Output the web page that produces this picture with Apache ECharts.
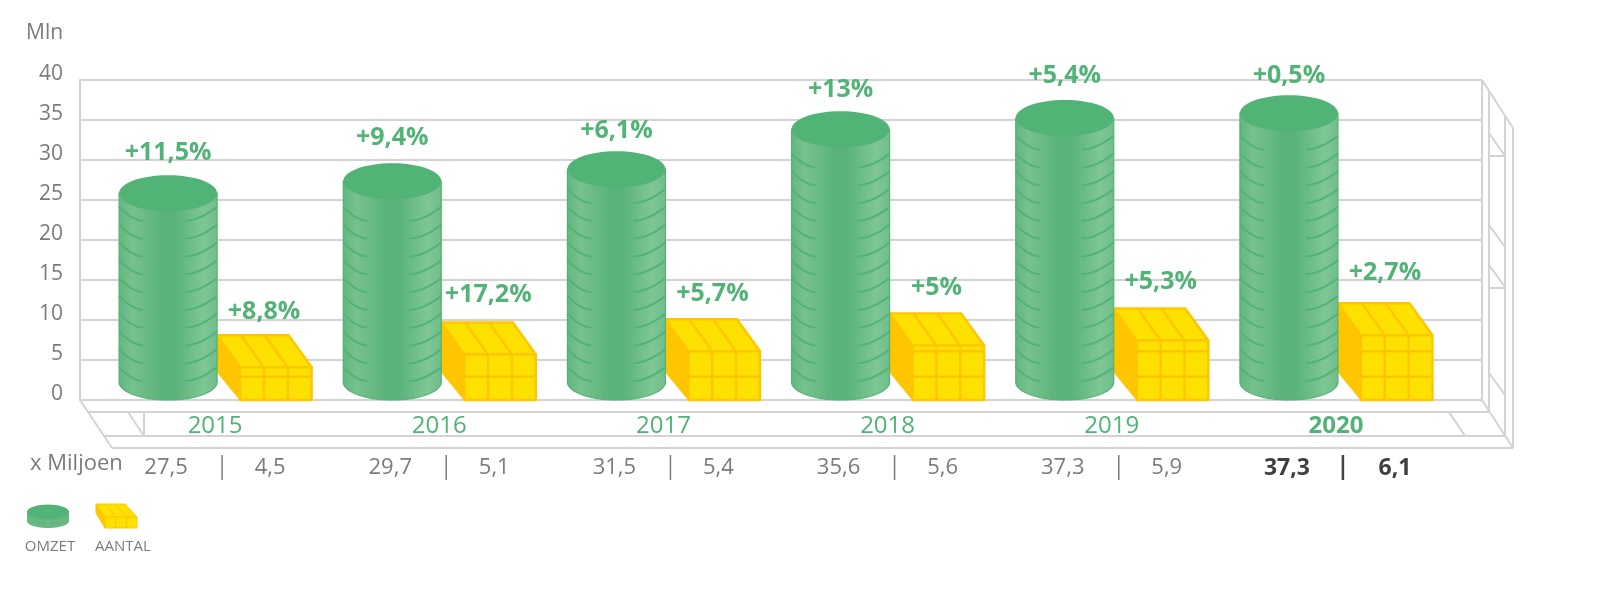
<!DOCTYPE html>
<html>
<head>
<meta charset="utf-8">
<style>html,body{margin:0;padding:0;background:#fff}#c{width:1600px;height:592px}</style>
<script src="https://cdn.jsdelivr.net/npm/echarts@6/dist/echarts.min.js"></script>
</head>
<body>
<div id="c"></div>
<script>
const categories = ['2015','2016','2017','2018','2019','2020'];
const yTicks = [0,5,10,15,20,25,30,35,40];
// heights
const omzetHeights = [28.1,29.6,31.1,36.1,37.5,38.1];
const aantalHeights = [8.1,9.7,10.1,10.8,11.45,12.1];
const omzetGrowth = ['+11,5%','+9,4%','+6,1%','+13%','+5,4%','+0,5%'];
const aantalGrowth = ['+8,8%','+17,2%','+5,7%','+5%','+5,3%','+2,7%'];
const omzetTable = ['27,5','29,7','31,5','35,6','37,3','37,3'];
const aantalTable = ['4,5','5,1','5,4','5,6','5,9','6,1'];

// layout only: label gap above each mark, in pixels
const omzetLabelGap = [22,25,20,21,24,19];
const aantalLabelGap = [23,28,25,26,27,30];

const FONT = '"Open Sans", sans-serif';
const GREEN = '#51b375', GREY = '#7b7b7b', FRAME = '#d3d3d3';
const YEL = '#ffe100', ORA = '#ffc600';
const chart = echarts.init(document.getElementById('c'), null, {renderer:'canvas'});
const grad = () => new echarts.graphic.LinearGradient(0,0,1,0,[
  {offset:0,color:'#62b680'},{offset:.14,color:'#78c18f'},{offset:.45,color:'#58b279'},
  {offset:.55,color:'#58b279'},{offset:.86,color:'#7fc697'},{offset:1,color:'#70bd89'}]);

function cylinder(params, api){
  const i = api.value(0), top = api.coord([i, api.value(1)]), floor = api.coord([i,0]);
  const cx = top[0]-47, rx = 49, ry = 18, cyTop = top[1]+ry, cyBot = floor[1]-18;
  const body = [[cx-rx,cyTop]];
  for(let a=0;a<=36;a++){const t=Math.PI*a/36; body.push([cx-rx*Math.cos(t),cyBot+ry*Math.sin(t)]);}
  body.push([cx+rx,cyTop]);
  const kids = [{type:'polygon',shape:{points:body},style:{fill:grad(),stroke:GREEN,lineWidth:1.2}}];
  // a ring seen from slightly above: it sinks from the edge towards the middle
  const arc = (cy,inner,edge)=>{const pts=[];for(let a=0;a<=12;a++){const t=a/12;
    pts.push([cx+inner+(edge-inner)*t,cy+17-14*Math.pow(t,1.8)]);}
    return {type:'polyline',shape:{points:pts},style:{fill:null,stroke:GREEN,lineWidth:2}};};
  for(let cy=floor[1]-36; cy>cyTop+7; cy-=17.8){kids.push(arc(cy,-25,-rx));kids.push(arc(cy,17,rx));}
  kids.push({type:'ellipse',shape:{cx:cx,cy:cyTop,rx:rx,ry:ry},style:{fill:GREEN}});
  kids.push({type:'text',style:{text:omzetGrowth[i],x:cx,y:top[1]-omzetLabelGap[i],align:'center',verticalAlign:'middle',
    fill:GREEN,font:'700 25px '+FONT}});
  return {type:'group',children:kids};
}
function box(params, api){
  const i = api.value(0), top = api.coord([i, api.value(1)]), floor = api.coord([i,0]);
  const x0 = top[0]+2, w = 71.5, dx = 23, dy = 32, yb = top[1], yf = yb+dy, y0 = floor[1];
  const s = {stroke:ORA,lineWidth:2.5,lineJoin:'round'};
  const kids = [
    {type:'polygon',shape:{points:[[x0,yb],[x0+dx,yf],[x0+dx,y0],[x0,y0-28]]},style:{fill:ORA,stroke:ORA,lineWidth:1}},
    {type:'polygon',shape:{points:[[x0,yb],[x0+w,yb],[x0+w+dx,yf],[x0+dx,yf]]},style:Object.assign({fill:YEL},s)},
    {type:'polygon',shape:{points:[[x0+dx,yf],[x0+dx+w,yf],[x0+dx+w,y0],[x0+dx,y0]]},style:Object.assign({fill:YEL},s)}
  ];
  const line=(a,b,c,d)=>({type:'line',shape:{x1:a,y1:b,x2:c,y2:d},style:s});
  [1/3,2/3].forEach(f=>{
    kids.push(line(x0+dx+w*f,yf,x0+dx+w*f,y0));
    kids.push(line(x0+w*f,yb,x0+dx+w*f,yf));
  });
  [2.9,6.1].forEach(v=>{const y=api.coord([i,v])[1]; if(y>yf+2) kids.push(line(x0+dx,y,x0+dx+w,y));});
  kids.push({type:'text',style:{text:aantalGrowth[i],x:top[0]+49,y:yb-aantalLabelGap[i],align:'center',verticalAlign:'middle',
    fill:GREEN,font:'700 25px '+FONT}});
  return {type:'group',children:kids};
}
function tableRow(params, api){
  const i = api.value(0), p = api.coord([i,0]), y = p[1]+68, last = i===categories.length-1;
  const font = (last?'700 23px ':'400 22px ')+FONT, fill = last?'#3f3f3f':GREY;
  const t=(text,x)=>({type:'text',style:{text,x,y,align:'center',verticalAlign:'middle',fill,font}});
  return {type:'group',children:[
    t(omzetTable[i],p[0]-49),
    {type:'line',shape:{x1:p[0]+7,y1:y-13,x2:p[0]+7,y2:y+12},style:{stroke:last?'#444':GREY,lineWidth:last?2.5:1.5}},
    t(aantalTable[i],p[0]+(last?59:55))
  ]};
}

const L=(x1,y1,x2,y2)=>({type:'line',silent:true,z:0,shape:{x1,y1,x2,y2},style:{stroke:FRAME,lineWidth:2}});
const frame=[
  L(1482,80,1513,128),L(80,400,112,448),L(1482,400,1513,448),
  L(88,412,1489,412),L(104,436,1505,436),L(112,448,1513,448),
  L(128,412,144,436),L(144,412,144,436),L(1449,412,1465,436),
  L(1482,80,1482,400),L(1489,91,1489,412),L(1505,116,1505,436),L(1513,128,1513,448),
  L(1489,133,1505,156),L(1489,156,1505,156),L(1489,225,1505,247),
  L(1489,265,1505,287),L(1489,288,1505,288),L(1489,373,1505,395)
];
const legendIcons=[
  {type:'polygon',shape:{points:(()=>{const p=[[27,511]];for(let a=0;a<=24;a++){const t=Math.PI*a/24;p.push([48-21*Math.cos(t),521+7*Math.sin(t)]);}p.push([69,511]);return p;})()},
   style:{fill:'#66b883'}},
  {type:'ellipse',shape:{cx:48,cy:512,rx:21,ry:7.5},style:{fill:GREEN}},
  {type:'polygon',shape:{points:[[96,504],[105,517],[105,528],[96,513]]},style:{fill:ORA,stroke:ORA,lineWidth:1}},
  {type:'polygon',shape:{points:[[96,504],[125,504],[137,517],[105,517]]},style:{fill:YEL,stroke:ORA,lineWidth:1}},
  {type:'polygon',shape:{points:[[105,517],[137,517],[137,528],[105,528]]},style:{fill:YEL,stroke:ORA,lineWidth:1}},
  {type:'line',shape:{x1:115.5,y1:517,x2:115.5,y2:528},style:{stroke:ORA,lineWidth:1}},
  {type:'line',shape:{x1:126.5,y1:517,x2:126.5,y2:528},style:{stroke:ORA,lineWidth:1}},
  {type:'line',shape:{x1:105.7,y1:504,x2:115.5,y2:517},style:{stroke:ORA,lineWidth:1}},
  {type:'line',shape:{x1:115.4,y1:504,x2:126.5,y2:517},style:{stroke:ORA,lineWidth:1}}
];
const txt=(text,x,y,size,align)=>({type:'text',style:{text,x,y,align:align||'left',verticalAlign:'middle',fill:GREY,font:'400 '+size+'px '+FONT}});

const ids = categories.map((c,i)=>i);
chart.setOption({
  animation:false,
  backgroundColor:'#fff',
  grid:[
    {left:80,top:80,width:1402,height:320},
    {left:103,top:80,width:1345,height:320}
  ],
  xAxis:[
    {gridIndex:0,type:'category',data:categories,show:false},
    {gridIndex:1,type:'category',data:categories,position:'bottom',
     axisLine:{show:false},axisTick:{show:false},
     axisLabel:{margin:14,color:GREEN,fontFamily:FONT,fontSize:24,
       formatter:v=>v===categories[categories.length-1]?'{b|'+v+'}':v,
       rich:{b:{fontWeight:700,fontSize:24,color:GREEN,fontFamily:FONT}}}}
  ],
  yAxis:[
    {gridIndex:0,type:'value',min:yTicks[0],max:yTicks[yTicks.length-1],interval:yTicks[1]-yTicks[0],
     axisLine:{show:true,lineStyle:{color:FRAME,width:2}},axisTick:{show:false},
     splitLine:{show:true,lineStyle:{color:FRAME,width:2}},
     axisLabel:{margin:17,color:GREY,fontFamily:FONT,fontSize:21,verticalAlign:'bottom',lineHeight:11}},
    {gridIndex:1,type:'value',min:yTicks[0],max:yTicks[yTicks.length-1],show:false}
  ],
  series:[
    {name:'AANTAL',type:'custom',xAxisIndex:1,yAxisIndex:1,z:3,renderItem:box,encode:{x:0,y:1},
     data:aantalHeights.map((v,i)=>[i,v])},
    {name:'OMZET',type:'custom',xAxisIndex:1,yAxisIndex:1,z:4,renderItem:cylinder,encode:{x:0,y:1},
     data:omzetHeights.map((v,i)=>[i,v])},
    {name:'tabel',type:'custom',xAxisIndex:1,yAxisIndex:1,z:4,renderItem:tableRow,encode:{x:0,y:1},
     data:ids.map(i=>[i,0])}
  ],
  graphic:[].concat(frame,legendIcons,[
    txt('Mln',26,33,21),
    txt('x Miljoen',30,464,22),
    txt('OMZET',50,547,15,'center'),
    txt('AANTAL',123,547,15,'center')
  ])
});
</script>
</body>
</html>
